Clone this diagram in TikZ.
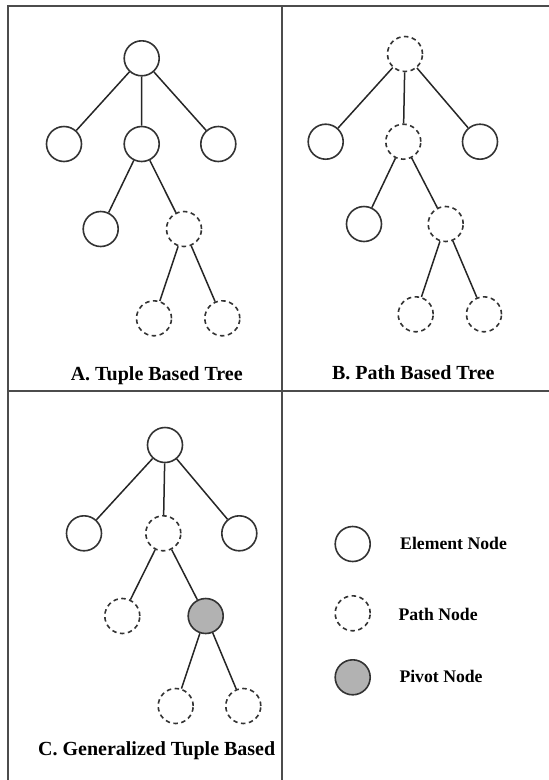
\documentclass[tikz,border=0pt]{standalone}
\usepackage{fontspec}
\setmainfont{Liberation Serif}
\begin{document}
\begin{tikzpicture}[x=1pt,y=-1pt,
  frame/.style={draw=black!70,line width=1.8pt},
  elem/.style={circle,draw=black!80,line width=1.6pt,minimum size=35pt,inner sep=0pt},
  pathnd/.style={elem,dash pattern=on 4.5pt off 3.5pt},
  pivot/.style={elem,fill=black!30},
  edge/.style={draw=black!85,line width=1.5pt},
  title/.style={font=\fontsize{20}{22}\selectfont\bfseries,anchor=base},
  legtext/.style={font=\fontsize{17.7}{20}\selectfont\bfseries,anchor=base west,inner sep=0pt}]
\useasboundingbox (0,0) rectangle (549,780);
% table rules
\coordinate (tl) at (8,6);
\coordinate (tr) at (549,6);
\coordinate (bl) at (8,780);
\coordinate (mt) at (282,6);
\coordinate (mb) at (282,780);
\coordinate (ml) at (8,391);
\coordinate (mr) at (549,391);
\draw[frame] (tr) -- (tl) -- (bl);
\draw[frame] (mt) -- (mb);
\draw[frame] (ml) -- (mr);

% A. tuple based tree
\node[elem]   (a0)  at (141.7,58.3) {};
\node[elem]   (a1)  at (64,144) {};
\node[elem]   (a2)  at (141.7,144) {};
\node[elem]   (a3)  at (218.3,144) {};
\node[elem]   (a4)  at (100.7,229) {};
\node[pathnd] (a5)  at (184,229) {};
\node[pathnd] (a6)  at (154,318.3) {};
\node[pathnd] (a7)  at (222.3,318.3) {};
\draw[edge] (a0) -- (a1) (a0) -- (a2) (a0) -- (a3)
            (a2) -- (a4) (a2) -- (a5) (a5) -- (a6) (a5) -- (a7);
\node[title] (ta) at (156.7,380) {A. Tuple Based Tree};

% B. path based tree
\node[pathnd] (b0)  at (405,54) {};
\node[elem]   (b1)  at (325.7,141.7) {};
\node[pathnd] (b2)  at (403.3,141.7) {};
\node[elem]   (b3)  at (480,141.7) {};
\node[elem]   (b4)  at (364,224) {};
\node[pathnd] (b5)  at (445.7,224) {};
\node[pathnd] (b6)  at (415.7,314.3) {};
\node[pathnd] (b7)  at (484,314.3) {};
\draw[edge] (b0) -- (b1) (b0) -- (b2) (b0) -- (b3)
            (b2) -- (b4) (b2) -- (b5) (b5) -- (b6) (b5) -- (b7);
\node[title] (tb) at (413.3,379.5) {B. Path Based Tree};

% C. generalized tuple based
\node[elem]   (c0)  at (165,445) {};
\node[elem]   (c1)  at (84,533.3) {};
\node[pathnd] (c2)  at (163.3,533.3) {};
\node[elem]   (c3)  at (239.3,533.3) {};
\node[pathnd] (c4)  at (122.3,616) {};
\node[pivot]  (c5)  at (205.7,616) {};
\node[pathnd] (c6)  at (175.7,706) {};
\node[pathnd] (c7)  at (243.3,706) {};
\draw[edge] (c0) -- (c1) (c0) -- (c2) (c0) -- (c3)
            (c2) -- (c4) (c2) -- (c5) (c5) -- (c6) (c5) -- (c7);
\node[title] (tc) at (156.7,755) {C. Generalized Tuple Based};

% legend
\node[elem]   (le) at (352.7,544) {};
\node[pathnd] (lp) at (352.7,613.3) {};
\node[pivot]  (lv) at (352.7,677.3) {};
\node[legtext] (lte) at (400,549.3) {Element Node};
\node[legtext] (ltp) at (398.3,620) {Path Node};
\node[legtext] (ltv) at (399.3,682.7) {Pivot Node};
\end{tikzpicture}
\end{document}
